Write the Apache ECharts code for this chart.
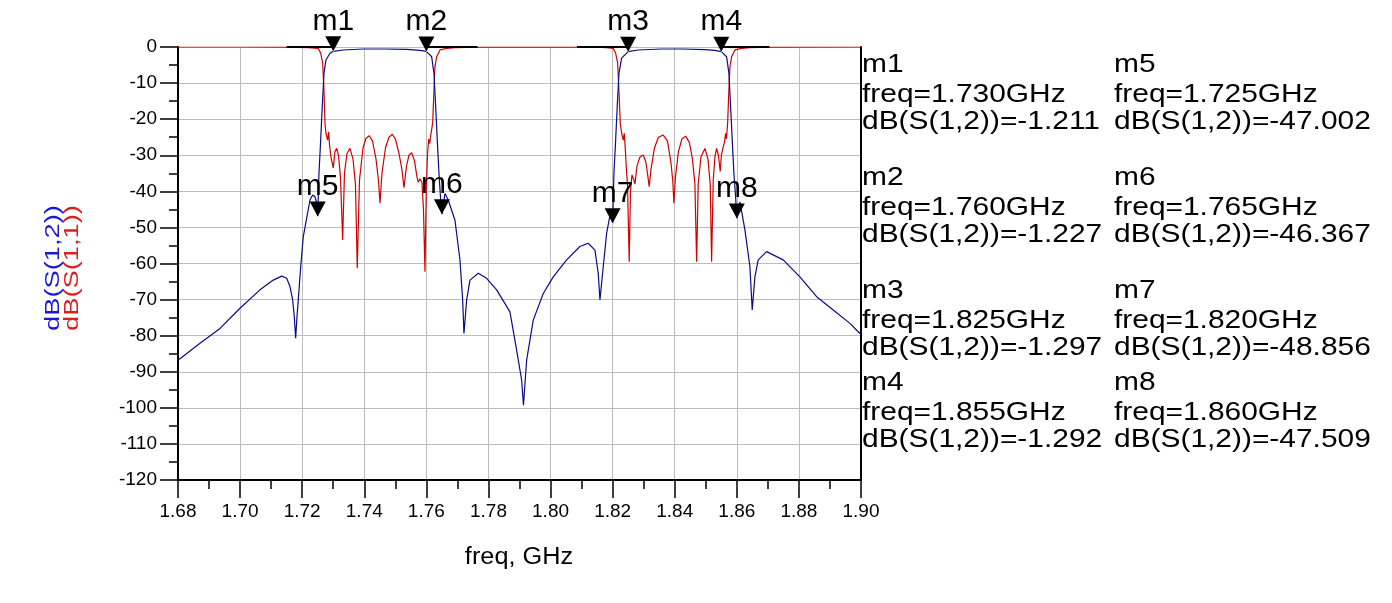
<!DOCTYPE html>
<html>
<head>
<meta charset="utf-8">
<script src="https://cdn.jsdelivr.net/npm/echarts@6/dist/echarts.min.js"></script>
<style>
html,body{margin:0;padding:0;background:#fff;}
#c{width:1392px;height:603px;}
</style>
</head>
<body>
<div id="c"></div>
<script>
// ---- data ----
const xTicks = [1.68,1.70,1.72,1.74,1.76,1.78,1.80,1.82,1.84,1.86,1.88,1.90];
const yTicks = [0,-10,-20,-30,-40,-50,-60,-70,-80,-90,-100,-110,-120];

// dB(S(1,2)) [freq GHz, dB]
const s12 = [
[1.6800,-86.8],[1.68709,-82.1],[1.69353,-78.0],[1.69997,-72.4],[1.70641,-67.3],[1.71069,-64.6],
[1.71340,-63.5],[1.71501,-64.1],[1.71607,-66.4],[1.71694,-70.1],[1.71745,-74.7],[1.71790,-80.7],
[1.71833,-74.7],[1.71874,-70.1],[1.71952,-60.9],[1.72035,-52.6],[1.72251,-42.4],[1.72338,-41.0],
[1.72412,-41.5],[1.72486,-43.8],[1.72500,-47.002],[1.72541,-35.0],[1.72596,-25.8],[1.72647,-16.5],
[1.72702,-7.3],[1.72766,-3.6],[1.72895,-1.75],[1.73000,-1.211],[1.73324,-0.83],[1.73968,-0.55],
[1.74612,-0.55],[1.75366,-0.64],[1.75794,-0.92],[1.76000,-1.227],[1.76171,-2.7],[1.76245,-7.3],
[1.76300,-16.5],[1.76351,-25.8],[1.76406,-35.0],[1.76461,-42.4],[1.76500,-46.367],[1.76599,-40.6],
[1.76705,-42.4],[1.76921,-48.0],[1.77082,-59.0],[1.77169,-70.1],[1.77211,-79.4],[1.77298,-70.1],
[1.77404,-64.6],[1.77671,-62.7],[1.77942,-64.1],[1.78264,-67.3],[1.78692,-73.4],[1.78908,-84.0],
[1.79069,-92.3],[1.79127,-99.3],[1.79230,-86.8],[1.79443,-75.7],[1.79765,-68.3],[1.80087,-63.7],
[1.80519,-59.0],[1.80947,-55.3],[1.81214,-54.4],[1.81430,-56.3],[1.81536,-62.7],[1.81591,-70.1],
[1.81697,-60.9],[1.81807,-51.6],[1.81945,-45.2],[1.82000,-48.856],[1.82042,-35.0],[1.82097,-25.8],
[1.82148,-16.5],[1.82203,-7.3],[1.82290,-3.1],[1.82500,-1.297],[1.82824,-0.83],[1.83578,-0.55],
[1.84222,-0.55],[1.84973,-0.74],[1.85295,-0.92],[1.85500,-1.292],[1.85671,-2.7],[1.85745,-7.3],
[1.85800,-16.5],[1.85852,-25.8],[1.85906,-35.0],[1.85961,-41.5],[1.86000,-47.509],[1.86100,-42.9],
[1.86261,-50.7],[1.86422,-60.9],[1.86496,-72.9],[1.86583,-63.7],[1.86689,-59.0],[1.86960,-56.7],
[1.87494,-59.0],[1.88032,-63.7],[1.88570,-69.2],[1.89105,-72.9],[1.89643,-76.6],[1.89965,-79.4],
[1.9000,-79.5]
];

// dB(S(1,1)) [freq GHz, dB]
const s11 = [
[1.6800,0],[1.7000,0],[1.7150,-0.05],[1.7220,-0.15],[1.72519,-0.4],[1.72596,-1.7],[1.72660,-4.5],
[1.72702,-11.9],[1.72734,-21.1],[1.72766,-23.9],[1.72821,-25.8],[1.72853,-23.5],[1.72879,-27.0],
[1.72927,-30.5],[1.73002,-33.5],[1.73056,-29.0],[1.73111,-28.1],[1.73169,-30.0],[1.73233,-36.0],
[1.73304,-53.5],[1.73362,-35.0],[1.73443,-29.5],[1.73539,-28.1],[1.73636,-31.0],[1.73716,-38.0],
[1.73774,-61.3],[1.73845,-37.0],[1.73958,-28.0],[1.74055,-25.3],[1.74161,-24.6],[1.74264,-26.0],
[1.74377,-31.0],[1.74457,-37.0],[1.74506,-43.3],[1.74570,-35.0],[1.74683,-28.0],[1.74795,-25.0],
[1.74902,-24.2],[1.75005,-25.5],[1.75118,-29.5],[1.75214,-34.0],[1.75279,-39.0],[1.75359,-33.0],
[1.75440,-30.0],[1.75527,-29.3],[1.75617,-31.5],[1.75697,-36.0],[1.75739,-37.5],[1.75794,-36.5],
[1.75858,-37.5],[1.75907,-45.0],[1.75955,-62.3],[1.75997,-40.0],[1.76036,-30.0],[1.76075,-25.5],
[1.76107,-26.8],[1.76132,-25.0],[1.76158,-24.5],[1.76203,-21.1],[1.76245,-11.9],[1.76277,-5.5],
[1.76332,-2.7],[1.76438,-0.8],[1.76654,-0.4],[1.76921,-0.15],[1.77726,-0.05],[1.8000,0],
[1.8150,-0.05],[1.8180,-0.15],[1.82019,-0.4],[1.82097,-1.7],[1.82161,-4.5],[1.82203,-11.9],
[1.82245,-21.1],[1.82290,-23.9],[1.82342,-25.8],[1.82374,-23.9],[1.82406,-28.0],[1.82445,-34.0],
[1.82477,-38.0],[1.82535,-59.5],[1.82574,-40.0],[1.82622,-35.5],[1.82670,-36.5],[1.82719,-38.0],
[1.82783,-33.0],[1.82880,-30.5],[1.82986,-29.9],[1.83073,-32.0],[1.83137,-36.0],[1.83179,-38.7],
[1.83234,-34.0],[1.83346,-28.0],[1.83475,-25.0],[1.83630,-24.4],[1.83765,-26.0],[1.83878,-32.0],
[1.83936,-37.0],[1.83974,-43.3],[1.84023,-36.0],[1.84119,-29.0],[1.84232,-25.5],[1.84351,-24.7],
[1.84473,-26.5],[1.84570,-31.0],[1.84650,-38.0],[1.84705,-59.5],[1.84757,-38.0],[1.84844,-30.5],
[1.84973,-28.1],[1.85069,-31.0],[1.85143,-38.0],[1.85188,-59.5],[1.85240,-37.0],[1.85295,-30.5],
[1.85349,-28.1],[1.85407,-30.0],[1.85465,-34.5],[1.85504,-30.0],[1.85562,-27.6],[1.85601,-26.5],
[1.85639,-23.9],[1.85665,-25.5],[1.85704,-21.1],[1.85745,-11.9],[1.85778,-5.5],[1.85832,-2.7],
[1.85939,-0.8],[1.86155,-0.4],[1.86422,-0.15],[1.87066,-0.05],[1.9000,0]
];

// markers: name, freq (GHz), dB(S(1,2))
const markerNames = ['m1','m2','m3','m4','m5','m6','m7','m8'];
const markerFreqs = [1.730,1.760,1.825,1.855,1.725,1.765,1.820,1.860];
const markerVals  = [-1.211,-1.227,-1.297,-1.292,-47.002,-46.367,-48.856,-47.509];

// black marker leader segments at 0 dB [from, to] GHz
const leaderSegs = [[1.7150,1.7300],[1.7600,1.7765],[1.8085,1.8250],[1.8550,1.8705]];

// ---- chart ----
const FONT = '"Liberation Sans", Arial, sans-serif';
const chart = echarts.init(document.getElementById('c'), null, {renderer:'canvas'});

const markerData = markerNames.map((n,i)=>({name:n, value:[markerFreqs[i], markerVals[i]]}));

const leaderSeries = leaderSegs.map(s=>({
  type:'line', data:[[s[0],0],[s[1],0]], showSymbol:false, symbol:'none', silent:true,
  lineStyle:{color:'#000', width:2.2}, z:5, animation:false
}));

// marker readout panel
const panelTexts = [];
const colX = [862, 1114];
const blockY = [65, 178, 291, 383];
markerNames.forEach((n,i)=>{
  const col = i < 4 ? 0 : 1;
  const row = i % 4;
  const lines = [n, 'freq=' + markerFreqs[i].toFixed(3) + 'GHz', 'dB(S(1,2))=' + markerVals[i].toFixed(3)];
  const dy = [0, 30, 57];
  lines.forEach((t,k)=>{
    panelTexts.push({
      type:'text', x:colX[col], y:blockY[row]+dy[k], scaleX:1.15, silent:true,
      style:{text:t, fill:'#000', font:'26px ' + FONT, textAlign:'left', textVerticalAlign:'middle'}
    });
  });
});

const option = {
  animation:false,
  backgroundColor:'#fff',
  grid:{left:178, right:531, top:47, bottom:123, containLabel:false},
  xAxis:{
    type:'value', min:1.68, max:1.90, interval:0.02,
    axisLine:{show:true, onZero:false, lineStyle:{color:'#000', width:2}},
    axisTick:{show:true, length:18, lineStyle:{color:'#000', width:1.5}},
    minorTick:{show:true, splitNumber:2, length:9, lineStyle:{color:'#000', width:1.5}},
    splitLine:{show:true, lineStyle:{color:'#bcbcbc', width:1}},
    minorSplitLine:{show:false},
    axisLabel:{margin:22, fontSize:19, color:'#000', fontFamily:FONT, formatter:v=>v.toFixed(2)}
  },
  yAxis:[{
    type:'value', min:-120, max:0, interval:10,
    axisLine:{show:true, onZero:false, lineStyle:{color:'#000', width:2}},
    axisTick:{show:true, length:18, lineStyle:{color:'#000', width:1.5}},
    minorTick:{show:true, splitNumber:2, length:9, lineStyle:{color:'#000', width:1.5}},
    splitLine:{show:true, lineStyle:{color:'#bcbcbc', width:1}},
    axisLabel:{margin:21, fontSize:19, color:'#000', fontFamily:FONT,
      formatter:v=> (yTicks.indexOf(v) >= 0 ? String(v) : '')}
  },{
    type:'value', min:-120, max:0, interval:10, position:'right',
    axisLine:{show:true, onZero:false, lineStyle:{color:'#000', width:2}},
    axisTick:{show:false}, axisLabel:{show:false}, splitLine:{show:false}
  }],
  series:[
    {type:'line', name:'dB(S(1,1))', data:s11, showSymbol:false, symbol:'none',
     lineStyle:{color:'#d00000', width:1.2}, z:3, clip:true},
    {type:'line', name:'dB(S(1,2))', data:s12, showSymbol:false, symbol:'none',
     lineStyle:{color:'#0a0a8a', width:1.2}, z:4, clip:true},
    ...leaderSeries,
    {type:'scatter', data:markerData, symbol:'triangle', symbolRotate:180,
     symbolSize:[16,15], symbolOffset:[0,-7.5], itemStyle:{color:'#000', opacity:1}, z:10, silent:true},
    {type:'scatter', data:markerData, symbol:'circle', symbolSize:1, itemStyle:{color:'#fff', opacity:1},
     label:{show:true, position:'top', distance:14, formatter:p=>p.name, fontSize:30, color:'#000', opacity:1, fontFamily:FONT},
     z:11, silent:true}
  ],
  graphic:[
    {type:'text', x:53, y:268, rotation:Math.PI/2, scaleX:1.3, silent:true,
     style:{text:'dB(S(1,2))', fill:'#1a1ad2', font:'21px ' + FONT, textAlign:'center', textVerticalAlign:'middle'}},
    {type:'text', x:72, y:268, rotation:Math.PI/2, scaleX:1.3, silent:true,
     style:{text:'dB(S(1,1))', fill:'#dc1e1e', font:'21px ' + FONT, textAlign:'center', textVerticalAlign:'middle'}},
    {type:'text', x:519, y:558, scaleX:1.1, silent:true,
     style:{text:'freq, GHz', fill:'#000', font:'23px ' + FONT, textAlign:'center', textVerticalAlign:'middle'}},
    ...panelTexts
  ]
};
chart.setOption(option);
</script>
</body>
</html>
